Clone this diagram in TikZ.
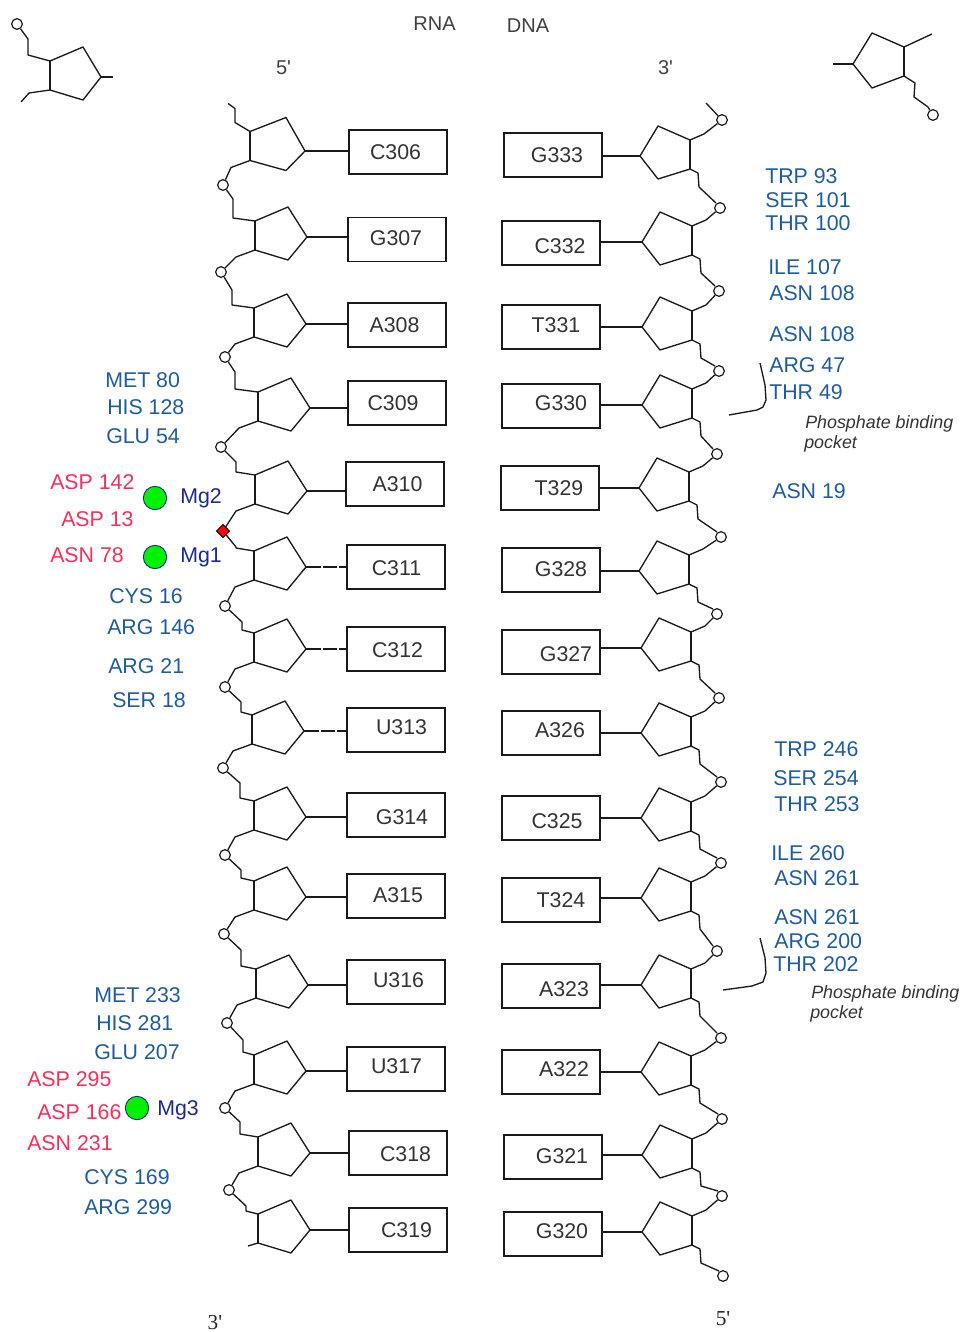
\documentclass[tikz,border=0pt]{standalone}
\usepackage{fontspec}
\setmainfont{Liberation Sans}
\newfontfamily\primefont{Liberation Serif}
\newfontfamily\plainsans{Liberation Sans}
\usetikzlibrary{calc,shapes.geometric}
\definecolor{resblue}{HTML}{1F5C9E}
\definecolor{resred}{HTML}{F2305C}
\definecolor{mgblue}{HTML}{1C2A8C}
\definecolor{lineblack}{HTML}{1A1A1A}
\tikzset{
 bond/.style={draw=lineblack,line width=1pt,line join=round},
 ringbond/.style={draw=lineblack,line width=1.5pt},
 basebox/.style={draw=lineblack,line width=1pt,minimum width=73.5pt,minimum height=33pt,inner sep=0pt},
 boxtext/.style={inner sep=0pt,text=black!80,font=\fontsize{16}{16}\selectfont},
 phos/.style={circle,draw=lineblack,line width=.9pt,fill=white,minimum size=8pt,inner sep=0pt},
 redphos/.style={diamond,draw=black,line width=.6pt,fill=red,minimum size=10pt,inner sep=0pt},
 resb/.style={anchor=west,inner sep=0pt,text=resblue,font=\fontsize{16}{16}\selectfont},
 resr/.style={anchor=west,inner sep=0pt,text=resred,font=\fontsize{16}{16}\selectfont},
 mgl/.style={anchor=west,inner sep=0pt,text=mgblue,font=\fontsize{16}{16}\selectfont},
 mgball/.style={circle,draw=mgblue,line width=.7pt,fill=green!95!black,minimum size=17.5pt,inner sep=0pt},
 plain/.style={anchor=center,inner sep=0pt,text=black!75,font=\plainsans\fontsize{15}{15}\selectfont},
 serifend/.style={anchor=center,inner sep=0pt,text=black!85,font=\primefont\fontsize{16}{16}\selectfont},
 note/.style={anchor=west,inner sep=0pt,text=black!80,font=\itshape\fontsize{13.4}{13.4}\selectfont},
}
\begin{document}
\begin{tikzpicture}[x=.75pt,y=-.75pt]
\useasboundingbox (0,0) rectangle (961,1332);
% LEFT STRAND units: id / label / apex / box centre / text centre / ring width / ring shift
\foreach \i/\lab/\ax/\ay/\bx/\by/\tx/\ty/\w/\dy in {
 1/C306/305/151/398/152/395.5/152.5/55/-3.5,
 2/G307/307/237/397/239.5/396/238.5/52/0,
 3/A308/306/324/397/325/394.5/325.5/52/0,
 4/C309/310/408/397/403/393/403.5/52/0,
 5/A310/307/491/395/484/397.5/484.5/52/0,
 6/C311/306/567/396/567/396.5/568.5/52/0,
 7/C312/306/649/396/649/397.5/650.5/52/0,
 8/U313/304/731/396/730/401.5/727.5/52/0,
 9/G314/306/817/396/815/402/817.5/52/0,
 10/A315/306/897/396/896/398/895.5/52/0,
 11/U316/308/985/396/982/398.5/980.5/52/0,
 12/U317/306/1071/396/1069/396.5/1066.5/52/0,
 13/C318/310/1153/398/1153/405.5/1154.5/52/0,
 14/C319/310/1230/398/1230/406.5/1230.5/52/0}{
  \node[basebox] (L\i) at (\bx,\by) {};
  \node[boxtext] (Lt\i) at (\tx,\ty) {\lab};
  \coordinate (La\i) at (\ax,\ay);
  \coordinate (Ltl\i) at (\ax-\w,\ay+\dy-16);
  \coordinate (Lbl\i) at (\ax-\w,\ay+\dy+13);
  \draw[bond] (Lbl\i) -- (\ax-19,\ay+\dy+23) -- (La\i) -- (\ax-19,\ay+\dy-30) -- (Ltl\i);
  \draw[ringbond] (Ltl\i) -- (Lbl\i);
}
\foreach \i in {1,2,3,4,5,9,10,11,12,13,14} \draw[bond] (La\i) -- (La\i -| L\i.west);
\foreach \i in {6,7,8} \draw[bond,dash pattern=on 11pt off 2pt on 10pt off 2pt] (La\i) -- (La\i -| L\i.west);
% left phosphates
\foreach \i/\cx/\cy in {1/223/185,2/221/272,3/225/357,4/221/447,6/225/606,7/225/687,8/223/768,9/225/855,10/224/934,11/227/1023,12/225/1108,13/229/1190}
  \node[phos] (Lp\i) at (\cx,\cy) {};
\node[redphos] (Lp5) at (223,531) {};
\foreach \i/\j/\kx/\ky in {1/2/233/199,2/3/232/290,3/4/235/372,4/5/236/462,5/6/236/547,6/7/242/622,7/8/241/702,8/9/240/783,9/10/241/870,10/11/241/950,11/12/243/1040,12/13/240/1122,13/14/246/1206}{
  \draw[bond] (Lbl\i) -- ++(-19,7) -- (Lp\i);
  \draw[bond] (Lp\i) -- (\kx,\ky) -- ($(Ltl\j -| {(\kx,\ky)})+(0,-3)$) -- (Ltl\j);
}
\draw[bond] (Ltl1) -- ++(-15,-9) -- ++(0,-14) -- ++(-7,-5);
\draw[bond] (Lbl14) -- ++(-10,3);
% RIGHT STRAND units
\foreach \i/\lab/\ax/\ay/\bx/\by/\tx/\ty in {
 1/G333/640/156/553/155/557/155.5,
 2/C332/642/242/551/243/560/246.5,
 3/T331/642/327/551/327/556/325.5,
 4/G330/642/405/551/406/561/403.5,
 5/T329/639/488/550/488/559/488.5,
 6/G328/639/571/551/570/561/569.5,
 7/G327/641/648/551/652/566/654.5,
 8/A326/641/733/551/733/560/730.5,
 9/C325/641/818/551/818/557/821.5,
 10/T324/641/898/551/900/561/900.5,
 11/A323/641/985/551/986/564/989.5,
 12/A322/641/1072/551/1072/564/1069.5,
 13/G321/642/1155/553/1157/562/1156.5,
 14/G320/642/1232/553/1234/562/1231.5}{
  \node[basebox] (R\i) at (\bx,\by) {};
  \node[boxtext] (Rt\i) at (\tx,\ty) {\lab};
  \coordinate (Ra\i) at (\ax,\ay);
  \coordinate (Rtr\i) at (\ax+50,\ay-16);
  \coordinate (Rbr\i) at (\ax+50,\ay+13);
  \draw[bond] (Rbr\i) -- (\ax+18,\ay+23) -- (Ra\i) -- (\ax+18,\ay-30) -- (Rtr\i);
  \draw[ringbond] (Rtr\i) -- (Rbr\i);
  \draw[bond] (Ra\i -| R\i.east) -- (Ra\i);
}
\foreach \i/\cx/\cy in {0/722/120,1/720/208,2/719/291,3/719/371,4/717/454,5/721/537,6/717/614,7/719/698,8/721/782,9/721/863,10/717/951,11/721/1038,12/722/1119,13/722/1196,14/723/1276}
  \node[phos] (Rp\i) at (\cx,\cy) {};
\foreach \i/\j in {0/1,1/2,2/3,3/4,4/5,5/6,6/7,7/8,8/9,9/10,10/11,11/12,12/13,13/14}{
  \draw[bond] (Rtr\j) -- ++(14,-6) -- (Rp\i);
}
\foreach \i in {1,2,3,4,5,6,7,8,9,10,11,12,13,14}{
  \draw[bond] (Rbr\i) -- ++(8,4) -- ++(1,14) -- ($(Rp\i)+(-4,-5)$);
}
\draw[bond] (Rp0) -- ++(-16,-17);
% TOP CORNER MOTIFS
\node[phos] (tlp) at (17,24) {};
\coordinate (tla) at (101,77);
\coordinate (tltl) at (50,61);
\coordinate (tlbl) at (50,90);
\draw[bond] (tlp) -- (28,39) -- (28,55) -- (tltl) -- (83,47) -- (tla) -- (83,100) -- (tlbl) -- (29,93) -- (21,102);
\draw[ringbond] (tltl) -- (tlbl);
\draw[bond] (tla) -- (113,77);
\node[phos] (trp) at (933,115) {};
\coordinate (tra) at (853,64);
\coordinate (trtr) at (904,47);
\coordinate (trbr) at (904,76);
\draw[bond] (trp) -- (928,107) -- (914,97) -- (915,83) -- (trbr) -- (872,88) -- (tra) -- (872,33) -- (trtr) -- (932,34);
\draw[ringbond] (trtr) -- (trbr);
\draw[bond] (tra) -- (833,64);
% BRACKETS
\draw[bond] (760,363) -- (765,385) -- (766,400) -- (763,407) -- (757,410) -- (729,415);
\draw[bond] (760,938) -- (765,958) -- (766,973) -- (763,982) -- (752,986) -- (723,990);
% TEXT LABELS
\node[plain] (trna) at (434.5,24) {RNA};
\node[plain] (tdna) at (528,26) {DNA};
\node[plain] (t5a) at (283.5,68) {5'};
\node[plain] (t3a) at (665.5,68) {3'};
\node[serifend] (t3b) at (215,1323) {3'};
\node[serifend] (t5b) at (723,1319) {5'};
\foreach \t/\x/\y in {MET 80/105/380,HIS 128/107/407,GLU 54/106/436,CYS 16/109/596,ARG 146/107/627,ARG 21/108/666,SER 18/112/700,MET 233/94/995,HIS 281/96/1023,GLU 207/94/1052,CYS 169/84/1177,ARG 299/84/1207,TRP 93/765/176,SER 101/765/200,THR 100/765/223,ILE 107/768/267,ASN 108/769/293,ASN 108/769/334,ARG 47/769/365,THR 49/769/392,ASN 19/772/491,TRP 246/774/749,SER 254/773/778,THR 253/774/804,ILE 260/771/853,ASN 261/774/878,ASN 261/774/917,ARG 200/774/941,THR 202/773/964}
  \node[resb] at (\x,\y) {\t};
\foreach \t/\x/\y in {ASP 142/50/482,ASP 13/61/519,ASN 78/50/555,ASP 295/27/1079,ASP 166/37/1112,ASN 231/27/1143}
  \node[resr] at (\x,\y) {\t};
\foreach \t/\x/\y in {Mg2/180/498,Mg1/180/557,Mg3/157/1110}
  \node[mgl] at (\x,\y) {\t};
\node[mgball] (m2) at (155,498) {};
\node[mgball] (m1) at (155,557) {};
\node[mgball] (m3) at (137,1108) {};
\node[note] (n1a) at (805,423.5) {Phosphate binding};
\node[note] (n1b) at (804,443.5) {pocket};
\node[note] (n2a) at (811,993.5) {Phosphate binding};
\node[note] (n2b) at (810,1013.5) {pocket};
\end{tikzpicture}
\end{document}
